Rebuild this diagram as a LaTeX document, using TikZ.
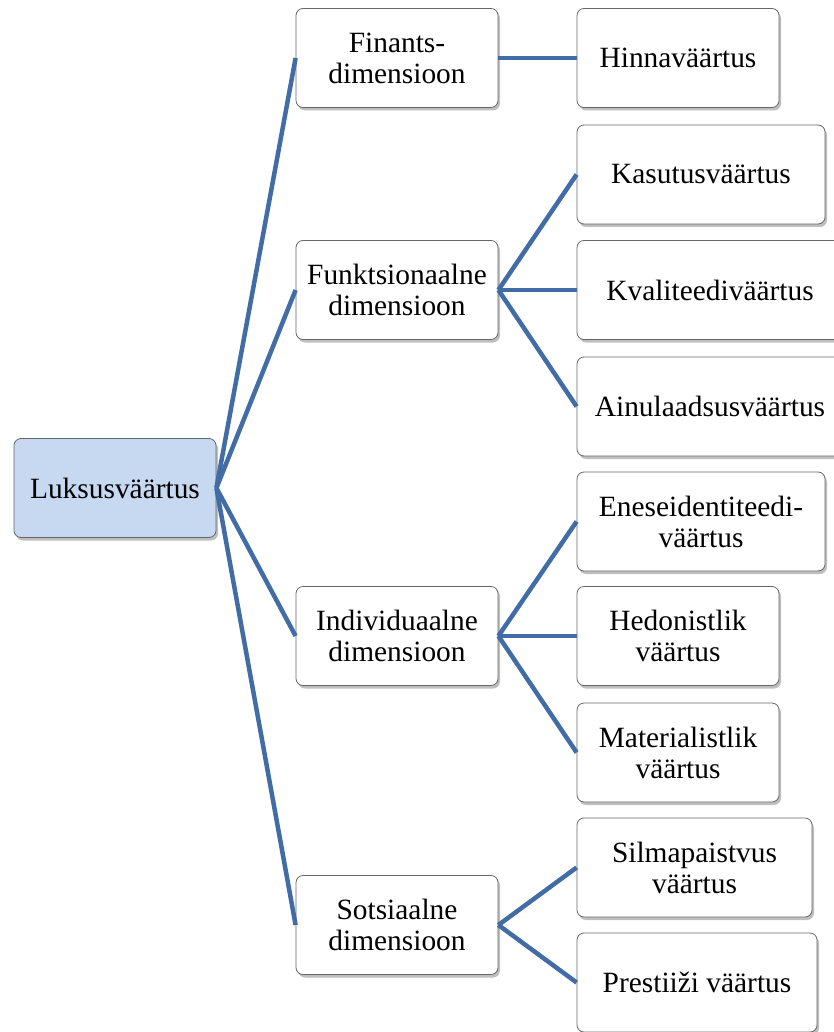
\documentclass[tikz,border=0pt]{standalone}
\usepackage{fontspec}
\setmainfont{Liberation Serif}
\usepackage{tikz}
\usetikzlibrary{shadows}
\definecolor{linkblue}{RGB}{66, 108, 166}
\definecolor{rootblue}{RGB}{198, 217, 240}

\begin{document}
\begin{tikzpicture}[x=1pt, y=-1pt,
				box/.style={draw=gray!80!black, fill=white, line width=0.8pt, rounded corners=7pt,
					align=center, inner sep=4pt, minimum height=99pt, minimum width=202pt,
					font=\fontsize{29.4}{31}\selectfont,
					drop shadow={shadow xshift=2pt, shadow yshift=-3pt, opacity=0.25, fill=black}},
				rbox/.style={box, fill=rootblue},
				link/.style={draw=linkblue, line width=4.5pt}]
				
				\useasboundingbox (0,0) rectangle (833,1032);
				
				%% ── root ──
				\node[rbox] (lux) at (115, 488) {Luksusväärtus};
				
				%% ── dimensions ──
				\node[box] (fin) at (397, 58) {Finants-\\dimensioon};
				\node[box] (fun) at (397, 290) {Funktsionaalne\\dimensioon};
				\node[box] (ind) at (397, 636) {Individuaalne\\dimensioon};
				\node[box] (sot) at (397, 925) {Sotsiaalne\\dimensioon};
				
				%% ── values ──
				\node[box] (hin) at (678, 58) {Hinnaväärtus};
				
				\node[box, minimum width=248pt] (kas) at (701, 174.5) {Kasutusväärtus};
				\node[box, minimum width=266pt] (kva) at (710, 290) {Kvaliteediväärtus};
				\node[box, minimum width=266pt] (ain) at (710, 406.5) {Ainulaadsusväärtus};
				
				\node[box, minimum width=248pt] (ene) at (701, 521.5) {Eneseidentiteedi-\\väärtus};
				\node[box] (hed) at (678, 636) {Hedonistlik\\väärtus};
				\node[box] (mat) at (678, 752.5) {Materialistlik\\väärtus};
				
				\node[box, minimum width=235pt] (sil) at (694.5, 867.5) {Silmapaistvus\\väärtus};
				\node[box, minimum width=240pt] (pre) at (697, 982.5) {Prestiiži väärtus};
				
				%% ── connectors ──
				\foreach \D in {fin, fun, ind, sot}
				\draw[link] (lux.east) -- (\D.west);
				
				\foreach \A/\B in {fin/hin, fun/kas, fun/kva, fun/ain, ind/ene, ind/hed, ind/mat, sot/sil, sot/pre}
				\draw[link] (\A.east) -- (\B.west);
				
\end{tikzpicture}
\end{document}
